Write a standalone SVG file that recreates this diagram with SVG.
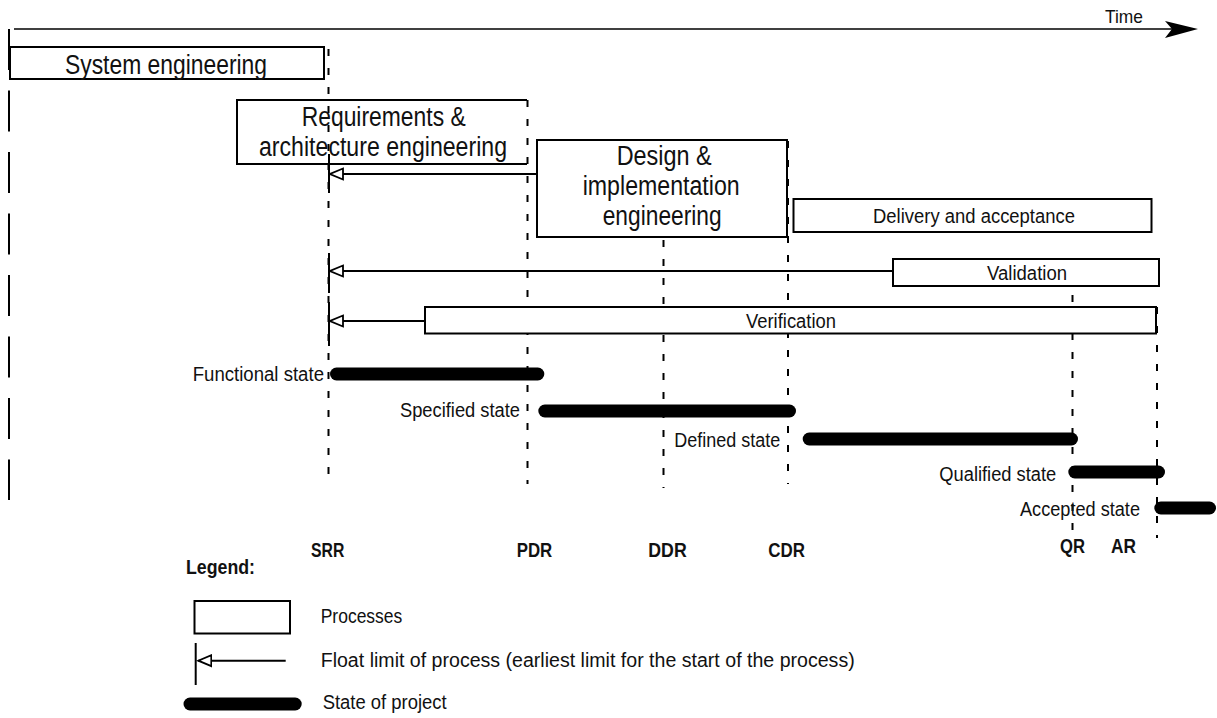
<svg xmlns="http://www.w3.org/2000/svg" width="1217" height="718" viewBox="0 0 1217 718">
<style>
.box{fill:#fff;stroke:#000;stroke-width:2}
.open{fill:none;stroke:#000;stroke-width:2}
.t{font-family:"Liberation Sans",Arial,sans-serif;fill:#111}
.big{font-size:27px}
.sm{font-size:20px}
.ms{font-size:19.5px;font-weight:bold}
.dash{stroke:#000;stroke-width:2;stroke-dasharray:7 12;fill:none}
.bar{stroke:#000;stroke-width:13;stroke-linecap:round}
.float{stroke:#000;stroke-width:2;fill:none;marker-end:url(#opentri)}
.tick{stroke:#000;stroke-width:2}
</style>
<defs>
<marker id="opentri" markerUnits="userSpaceOnUse" markerWidth="16" markerHeight="14" refX="14" refY="7" orient="auto">
<path d="M1,1.5 L14,7 L1,12.5 Z" fill="#fff" stroke="#000" stroke-width="1.8"/>
</marker>
</defs>
<rect width="1217" height="718" fill="#fff"/>

<g id="connectors">
<path d="M9,29 V500" stroke="#000" stroke-width="2" stroke-dasharray="41 20.5"/>
<path d="M14,29 H1175" stroke="#000" stroke-width="1.5"/>
<polygon points="1165,21 1198,29 1165,38 1172,29" fill="#000"/>
<path class="dash" d="M328.5,49 V484"/>
<path class="dash" d="M527.5,100 V484"/>
<path class="dash" d="M663.5,240 V488"/>
<path class="dash" d="M788,141 V484"/>
<path class="dash" d="M1072.5,295 V538"/>
<path class="dash" d="M1157,307 V538"/>
<line class="tick" x1="329" y1="154" x2="329" y2="193"/>
<line class="tick" x1="329" y1="253" x2="329" y2="293"/>
<line class="tick" x1="329" y1="302" x2="329" y2="346"/>
<path class="float" d="M537,174 H330"/>
<path class="float" d="M893,271 H330"/>
<path class="float" d="M425,321 H330"/>
</g>

<g id="time-label"><text class="t" x="1105" y="23" font-size="19" textLength="38" lengthAdjust="spacingAndGlyphs">Time</text></g>

<g id="system-engineering">
<rect class="box" x="10" y="47" width="314" height="32"/>
<text class="t big" x="65" y="74" textLength="202" lengthAdjust="spacingAndGlyphs">System engineering</text>
</g>

<g id="requirements">
<path class="open" d="M527,100 H237 V164 H527" fill="#fff"/>
<text class="t big" x="301.7" y="126" textLength="164" lengthAdjust="spacingAndGlyphs">Requirements &amp;</text>
<text class="t big" x="259" y="156" textLength="248" lengthAdjust="spacingAndGlyphs">architecture engineering</text>
</g>

<g id="design">
<rect class="box" x="537" y="140" width="250" height="97"/>
<text class="t big" x="616.7" y="165" textLength="95" lengthAdjust="spacingAndGlyphs">Design &amp;</text>
<text class="t big" x="582.7" y="195" textLength="157" lengthAdjust="spacingAndGlyphs">implementation</text>
<text class="t big" x="602.7" y="225" textLength="119" lengthAdjust="spacingAndGlyphs">engineering</text>
</g>

<g id="delivery">
<rect class="box" x="793.5" y="199" width="358" height="33"/>
<text class="t sm" x="873" y="223" textLength="202" lengthAdjust="spacingAndGlyphs">Delivery and acceptance</text>
</g>

<g id="validation">
<rect class="box" x="893" y="259" width="266" height="27"/>
<text class="t sm" x="987" y="279.5" textLength="80" lengthAdjust="spacingAndGlyphs">Validation</text>
</g>

<g id="verification">
<rect class="box" x="425" y="307" width="731" height="26.5"/>
<text class="t sm" x="746" y="327.5" textLength="90" lengthAdjust="spacingAndGlyphs">Verification</text>
</g>

<g id="functional-state">
<line class="bar" x1="336.5" y1="374" x2="537.8" y2="374"/>
<text class="t sm" x="192.7" y="380.5" textLength="131.3" lengthAdjust="spacingAndGlyphs">Functional state</text>
</g>
<g id="specified-state">
<line class="bar" x1="544.8" y1="411" x2="789.5" y2="411"/>
<text class="t sm" x="400" y="417" textLength="120" lengthAdjust="spacingAndGlyphs">Specified state</text>
</g>
<g id="defined-state">
<line class="bar" x1="809.2" y1="439" x2="1071.5" y2="439"/>
<text class="t sm" x="674.3" y="446.5" textLength="106" lengthAdjust="spacingAndGlyphs">Defined state</text>
</g>
<g id="qualified-state">
<line class="bar" x1="1074.8" y1="472" x2="1158.5" y2="472"/>
<text class="t sm" x="939.3" y="480.5" textLength="117" lengthAdjust="spacingAndGlyphs">Qualified state</text>
</g>
<g id="accepted-state">
<line class="bar" x1="1160.8" y1="508" x2="1209.5" y2="508"/>
<text class="t sm" x="1020" y="516" textLength="120" lengthAdjust="spacingAndGlyphs">Accepted state</text>
</g>

<g id="milestones">
<text class="t ms" x="311" y="557" textLength="33.3" lengthAdjust="spacingAndGlyphs">SRR</text>
<text class="t ms" x="516.7" y="557" textLength="35.6" lengthAdjust="spacingAndGlyphs">PDR</text>
<text class="t ms" x="648.3" y="557" textLength="38.4" lengthAdjust="spacingAndGlyphs">DDR</text>
<text class="t ms" x="768.3" y="557" textLength="36.7" lengthAdjust="spacingAndGlyphs">CDR</text>
<text class="t ms" x="1060" y="553" textLength="25" lengthAdjust="spacingAndGlyphs">QR</text>
<text class="t ms" x="1111" y="553" textLength="25" lengthAdjust="spacingAndGlyphs">AR</text>
</g>

<g id="legend">
<text class="t ms" x="186" y="574" textLength="69" lengthAdjust="spacingAndGlyphs">Legend:</text>
<rect class="box" x="194.5" y="601" width="95.5" height="32.5"/>
<text class="t sm" x="320.7" y="623" textLength="81.6" lengthAdjust="spacingAndGlyphs">Processes</text>
<line class="tick" x1="195.7" y1="643" x2="195.7" y2="685"/>
<path class="float" d="M285.7,660.7 H198.3"/>
<text class="t sm" x="320.7" y="667" textLength="534" lengthAdjust="spacingAndGlyphs">Float limit of process (earliest limit for the start of the process)</text>
<line class="bar" x1="190" y1="704" x2="295.2" y2="704" stroke-width="13.5"/>
<text class="t sm" x="322.7" y="709" textLength="124" lengthAdjust="spacingAndGlyphs">State of project</text>
</g>
</svg>
